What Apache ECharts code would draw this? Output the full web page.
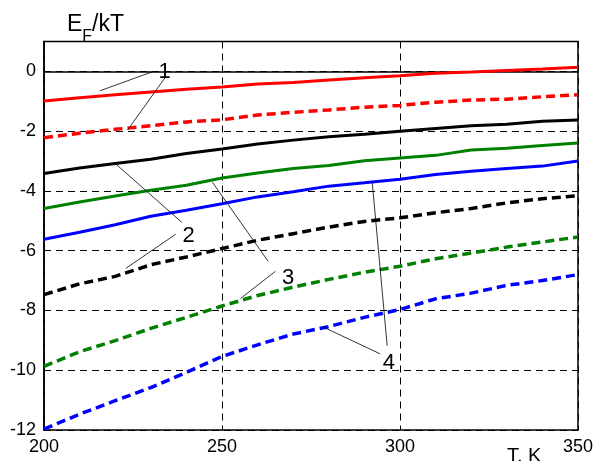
<!DOCTYPE html>
<html>
<head>
<meta charset="utf-8">
<script src="https://cdn.jsdelivr.net/npm/echarts@6/dist/echarts.min.js"></script>
<style>html,body{margin:0;padding:0;background:#fff;}#c{width:596px;height:461px;}</style>
</head>
<body>
<div id="c"></div>
<script>
var T = [200,210,220,230,240,250,260,270,280,290,300,310,320,330,340,350];
var red1 = [-0.99,-0.88,-0.78,-0.69,-0.60,-0.52,-0.42,-0.37,-0.29,-0.21,-0.15,-0.06,-0.02,0.03,0.08,0.14];
var red1d = [-2.22,-2.07,-1.94,-1.82,-1.69,-1.62,-1.46,-1.37,-1.29,-1.20,-1.14,-1.03,-0.96,-0.93,-0.85,-0.78];
var black2 = [-3.42,-3.23,-3.08,-2.94,-2.75,-2.60,-2.43,-2.30,-2.19,-2.10,-2.00,-1.91,-1.82,-1.77,-1.67,-1.63];
var black2d = [-7.47,-7.11,-6.86,-6.47,-6.21,-5.93,-5.65,-5.43,-5.21,-5.02,-4.90,-4.73,-4.59,-4.40,-4.26,-4.16];
var green3 = [-4.59,-4.37,-4.17,-3.98,-3.81,-3.57,-3.40,-3.25,-3.15,-2.99,-2.90,-2.81,-2.63,-2.57,-2.48,-2.40];
var green3d = [-9.87,-9.38,-9.01,-8.60,-8.23,-7.85,-7.50,-7.22,-6.96,-6.72,-6.52,-6.27,-6.08,-5.88,-5.71,-5.54];
var blue4 = [-5.62,-5.38,-5.13,-4.85,-4.65,-4.43,-4.20,-4.03,-3.84,-3.73,-3.61,-3.45,-3.34,-3.25,-3.17,-3.00];
var blue4d = [-11.97,-11.47,-11.02,-10.58,-10.07,-9.54,-9.15,-8.79,-8.54,-8.23,-7.97,-7.61,-7.42,-7.16,-7.00,-6.80];
var yTicks = [-12,-10,-8,-6,-4,-2,0];
var xTicks = [200,250,300,350];
var annLabels = ['1','2','3','4'];
var annPos = [[233.9,-0.02],[240.6,-5.52],[268.6,-6.9],[296.9,-9.75]];
var annLines = [
  [[230.3,-0.02],[215.7,-0.65]], [[234.2,-0.18],[223.5,-1.96]],
  [[219.9,-3.07],[238.7,-5.05]], [[237.0,-5.45],[223.0,-6.59]],
  [[247.3,-3.71],[263.0,-6.36]], [[265.0,-6.69],[255.2,-7.60]],
  [[292.2,-3.71],[296.4,-9.18]], [[278.7,-8.57],[294.4,-9.45]]
];

function pairs(ys){ return T.map(function(t,i){ return [t, ys[i]]; }); }
function lineSeries(ys, color, dashed){
  return {
    type:'line', data:pairs(ys), showSymbol:false, symbol:'none', z:3,
    lineStyle:{color:color, width:dashed?3.5:3, type:dashed?[9,5]:'solid', cap:'butt'}
  };
}
var FONT = '"Liberation Sans", Arial, sans-serif';
var chart = echarts.init(document.getElementById('c'), null, {renderer:'canvas'});
var series = [
  lineSeries(red1,'#ff0000',false),
  lineSeries(red1d,'#ff0000',true),
  lineSeries(black2,'#000000',false),
  lineSeries(black2d,'#000000',true),
  lineSeries(green3,'#008000',false),
  lineSeries(green3d,'#008000',true),
  lineSeries(blue4,'#0000ff',false),
  lineSeries(blue4d,'#0000ff',true),
  {
    type:'scatter', symbolSize:0, z:5,
    itemStyle:{opacity:1},
    data: annPos.map(function(p,i){ return {value:p, name:annLabels[i]}; }),
    label:{show:true, position:'inside', formatter:function(p){return p.name;}, color:'#000', opacity:1, textBorderWidth:0, fontSize:22, fontFamily:FONT},
    markLine:{
      silent:true, symbol:['none','none'], animation:false,
      lineStyle:{color:'#000', width:0.8, type:'solid', opacity:1},
      label:{show:false},
      emphasis:{disabled:true},
      data: annLines.map(function(l){ return [{coord:l[0]},{coord:l[1]}]; })
    }
  }
];
chart.setOption({
  animation:false,
  backgroundColor:'#fff',
  grid:{left:44, right:17, top:41.5, bottom:31, show:true, borderColor:'#000', borderWidth:1.5, backgroundColor:'transparent'},
  xAxis:{
    type:'value', min:200, max:350, interval:50,
    axisLine:{show:true, lineStyle:{color:'#000', width:1.5}},
    axisTick:{show:false},
    axisLabel:{color:'#000', fontSize:18, fontFamily:FONT, margin:8,
      formatter:function(v){ return xTicks.indexOf(v)>=0 ? String(v) : ''; }},
    splitLine:{show:true, lineStyle:{color:'#000', width:1, type:[7,5]}}
  },
  yAxis:{
    type:'value', min:-12, max:1, interval:2,
    axisLine:{show:true, lineStyle:{color:'#000', width:1.5}},
    axisTick:{show:false},
    axisLabel:{color:'#000', fontSize:18, fontFamily:FONT, margin:8, showMaxLabel:false,
      formatter:function(v){ return yTicks.indexOf(v)>=0 ? String(v) : ''; }},
    splitLine:{show:true, lineStyle:{color:'#000', width:1, type:[7,5]}}
  },
  graphic:[
    {type:'text', left:67, top:13, style:{
      text:'{a|E}{b|F}{a|/kT}',
      rich:{a:{fontSize:23, fontFamily:FONT, fill:'#000', verticalAlign:'bottom'}, b:{fontSize:16, fontFamily:FONT, fill:'#000', padding:[0,0,-9,0], verticalAlign:'bottom'}}
    }},
    {type:'text', left:507, top:446, style:{text:'T, K', fontSize:20, fontFamily:FONT, fill:'#000'}}
  ],
  series:series
});
</script>
</body>
</html>
